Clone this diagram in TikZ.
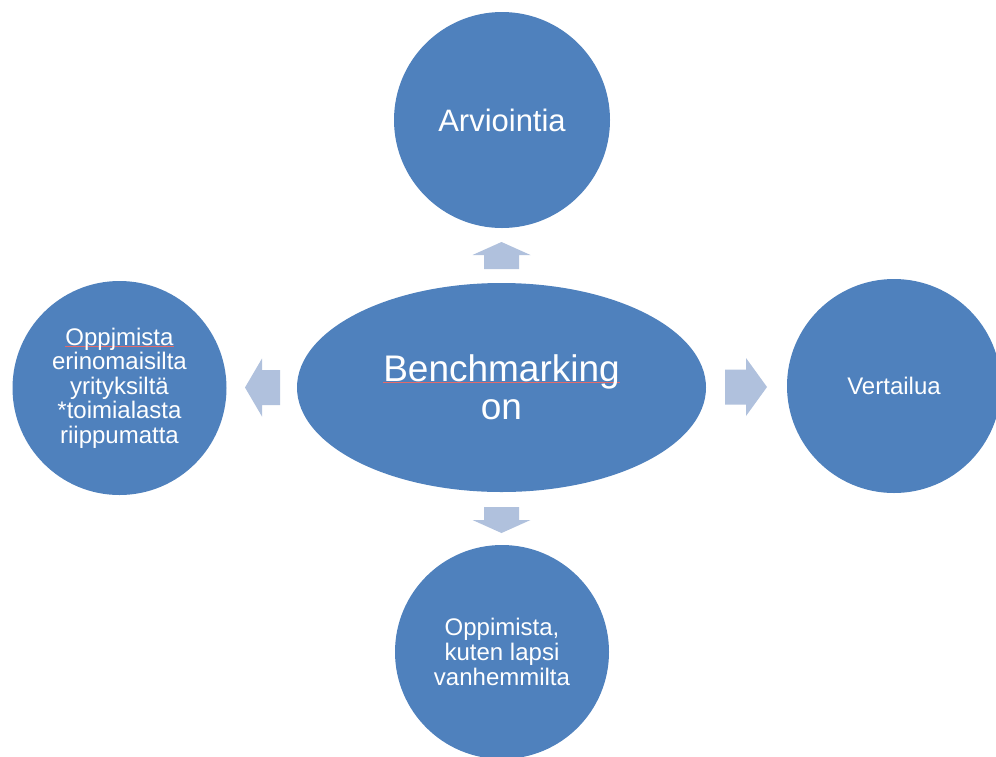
\documentclass[tikz,border=0pt]{standalone}
\usepackage{fontspec}
\setmainfont{Liberation Sans}
\usetikzlibrary{shapes.geometric}
\definecolor{bubble}{RGB}{79,129,189}
\definecolor{blockarr}{RGB}{176,193,221}
\definecolor{spell}{RGB}{226,106,106}
\newcommand\spellmark[1]{\setbox0=\hbox{#1}\rlap{\textcolor{spell}{\rule[-1.2pt]{\wd0}{0.7pt}}}\box0}
\newcommand\blockarrow[4]{%
  \begin{scope}[shift={#1},rotate=#2]
    \fill[blockarr] (-#3/2,-17.5) -- (#3/2-#4,-17.5) -- (#3/2-#4,-29) -- (#3/2,0)
      -- (#3/2-#4,29) -- (#3/2-#4,17.5) -- (-#3/2,17.5) -- cycle;
  \end{scope}}
\tikzset{
  bubblecircle/.style={circle,fill=bubble,draw=none,inner sep=0pt,
    minimum size=#1,text=white,align=center},
  bubbleoval/.style={ellipse,fill=bubble,draw=none,inner sep=0pt,
    minimum width=409pt,minimum height=209pt,text=white,align=center},
}
\begin{document}
\begin{tikzpicture}[x=1pt,y=-1pt]
\clip (0,0) rectangle (996,756);
\fill[white] (0,0) rectangle (996,756);

\node[bubbleoval,font=\fontsize{37}{38.5}\selectfont] (hub) at (501.5,387.5)
  {\spellmark{Benchmarking}\\on};
\node[bubblecircle=216pt,font=\fontsize{31}{33}\selectfont] (top) at (502,120)
  {Arviointia};
\node[bubblecircle=214pt,font=\fontsize{24}{24.5}\selectfont] (left) at (119.5,388)
  {\spellmark{Oppjmista}\\erinomaisilta\\yrityksiltä\\{}*toimialasta\\riippumatta};
\node[bubblecircle=214pt,font=\fontsize{24}{25}\selectfont] (right) at (894,386)
  {Vertailua};
\node[bubblecircle=214pt,font=\fontsize{24}{25}\selectfont] (bottom) at (502,652)
  {Oppimista,\\kuten lapsi\\vanhemmilta};

\coordinate (aup) at (501.5,255.5);
\coordinate (adown) at (501.5,520);
\coordinate (aright) at (746,387);
\coordinate (aleft) at (262.5,387.5);
\blockarrow{(aup)}{90}{27}{13}
\blockarrow{(adown)}{-90}{26}{13}
\blockarrow{(aright)}{0}{42}{21}
\blockarrow{(aleft)}{180}{35}{17}
\end{tikzpicture}
\end{document}
